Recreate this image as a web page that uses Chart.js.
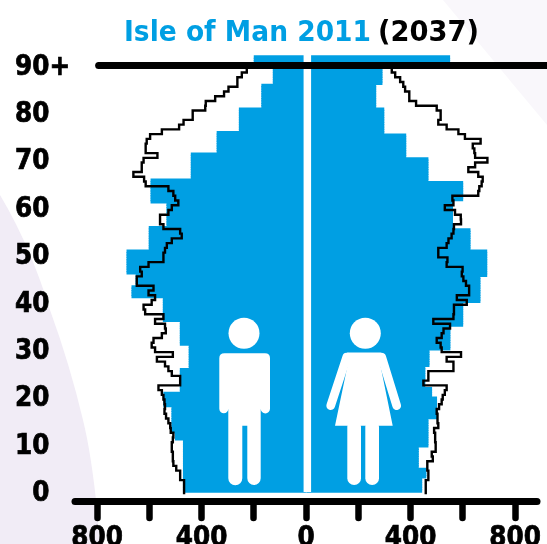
<!DOCTYPE html>
<html>
<head>
<meta charset="utf-8">
<title>Isle of Man 2011 (2037)</title>
<script src="https://cdn.jsdelivr.net/npm/chart.js@4/dist/chart.umd.min.js"></script>
<style>
    html, body { margin: 0; padding: 0; background: #fff; overflow: hidden; }
    #wrap { position: relative; width: 547px; height: 544px; }
    #wrap svg, #wrap canvas { position: absolute; left: 0; top: 0; }
    .ttl { font-family: "DejaVu Sans Condensed", "DejaVu Sans", sans-serif; font-weight: bold; font-size: 29px; }
</style>
</head>
<body>
<div id="wrap">
    <!-- pale background shapes -->
    <svg width="547" height="544">
        <path d="M0 195 Q30 245 50 310 Q70 365 83 420 Q94 465 100 544 L0 544 Z" fill="#f1ecf6"/>
        <path d="M443 0 L547 0 L547 125 Z" fill="#f9f7fb"/>
    </svg>
    <canvas id="chart" width="547" height="544"></canvas>
    <!-- title and the two figures -->
    <svg width="547" height="544">
        <text class="ttl" x="124" y="41" fill="#009fe3" textLength="247" lengthAdjust="spacingAndGlyphs">Isle of Man 2011</text>
        <text class="ttl" x="378" y="41" fill="#000" textLength="101" lengthAdjust="spacingAndGlyphs">(2037)</text>
        <g fill="#fff">
            <circle cx="244" cy="333.3" r="15.5"/>
            <path d="M224.5 353.3 H265 Q270 353.3 270 358.3 V408.8 A4.6 4.6 0 0 1 260.7 408.8 V478.3 A6.7 6.7 0 0 1 247.3 478.3 V425.7 H242.3 V478.3 A7 7 0 0 1 228.3 478.3 V408.8 A4.5 4.5 0 0 1 219.3 408.8 V358.3 Q219.3 353.3 224.5 353.3 Z"/>
            <circle cx="365.3" cy="333.3" r="15.5"/>
            <path d="M347.3 352.5 H380.7 V366.7 L392.7 425.7 H335 L347.3 366.7 Z"/>
            <rect x="347.3" y="420" width="13.7" height="65" rx="6.8"/>
            <rect x="365.3" y="420" width="13.7" height="65" rx="6.8"/>
        </g>
        <g stroke="#fff" stroke-width="8.7" stroke-linecap="round">
            <line x1="346.7" y1="357" x2="330.7" y2="405.7"/>
            <line x1="381.7" y1="357" x2="396.7" y2="405.7"/>
        </g>
    </svg>
</div>
<script>
// 2011 bars: each value holds from its start age up to the next start age
var maleBandStarts = [0, 11, 12.5, 18, 21, 26, 31, 36, 41, 43.5, 46, 51, 56, 61, 66, 71.5, 76, 81, 86, 89.5];
var maleBandValues = [470, 501, 514, 545, 482, 448, 482, 547, 667, 651, 686, 601, 533, 594, 440, 341, 256, 170, 126, 199];
var femaleBandStarts = [0, 3, 5, 9.5, 15.5, 20, 22, 26.5, 30, 35, 40, 45.5, 51, 55.5, 61.5, 65.5, 70.5, 75.5, 81, 86, 89.5];
var femaleBandValues = [443, 459, 430, 467, 500, 481, 455, 471, 551, 600, 666, 692, 628, 561, 600, 467, 382, 298, 267, 291, 550];
var bandTop = 92;

// 2037 projection, one value per age from 0 to 89
var male2037 = [
    467, 467, 467, 482, 482, 497, 508, 510, 510, 514,
    514, 510, 508, 518, 520, 527, 536, 542, 540, 542,
    546, 552, 565, 482, 482, 514, 527, 540, 571, 510,
    578, 591, 584, 552, 537, 540, 578, 546, 616, 622,
    591, 578, 603, 584, 648, 648, 629, 635, 603, 546,
    546, 540, 533, 514, 476, 482, 546, 559, 559, 527,
    514, 489, 501, 508, 527, 614, 620, 661, 629, 629,
    622, 569, 614, 614, 610, 597, 552, 486, 469, 434,
    434, 386, 384, 348, 314, 297, 263, 263, 246, 227
];
var female2037 = [
    458, 458, 458, 468, 468, 464, 464, 485, 481, 496,
    496, 494, 494, 490, 506, 503, 503, 500, 509, 519,
    523, 531, 538, 449, 468, 468, 564, 564, 538, 593,
    519, 515, 500, 519, 526, 551, 487, 564, 566, 566,
    615, 577, 624, 624, 612, 602, 596, 599, 538, 541,
    506, 506, 538, 545, 557, 564, 566, 593, 592, 570,
    531, 564, 560, 659, 663, 672, 676, 659, 621, 647,
    694, 647, 644, 638, 668, 608, 583, 538, 506, 515,
    515, 500, 421, 395, 395, 379, 372, 360, 341, 328
];

var xTickValues = [-800, -600, -400, -200, 0, 200, 400, 600, 800];
var xTickLabels = ['800', '', '400', '', '0', '', '400', '', '800'];
var yTickValues = [0, 10, 20, 30, 40, 50, 60, 70, 80, 90];
var yTickLabels = ['\u20070', '10', '20', '30', '40', '50', '60', '70', '80', '90+'];

var BLUE = '#009fe3';

function bandRows(starts, values, sign) {
    var rows = [];
    for (var a = 0; a < bandTop; a += 0.5) {
        var i = starts.length - 1;
        while (starts[i] > a) { i--; }
        rows.push({ x: sign * values[i], y: a + 0.25 });
    }
    return rows;
}

// each age is centred on its own step, the last step is closed off at the top
function lineRows(values, sign) {
    var rows = values.map(function(v, age) {
        return { x: sign * v, y: age - 0.5 };
    });
    rows.push({ x: sign * values[values.length - 1], y: values.length - 0.5 });
    return rows;
}

var roundCaps = {
    id: 'roundCaps',
    beforeDraw: function(chart) {
        chart.ctx.lineCap = 'round';
    }
};

var tickFont = { family: '"DejaVu Sans Condensed", "DejaVu Sans", sans-serif', weight: 'bold', size: 27.5 };

new Chart(document.getElementById('chart'), {
    type: 'bar',
    data: {
        datasets: [
            { label: 'Male 2011', data: bandRows(maleBandStarts, maleBandValues, -1), backgroundColor: BLUE, grouped: false, barThickness: 3, order: 4 },
            { label: 'Female 2011', data: bandRows(femaleBandStarts, femaleBandValues, 1), backgroundColor: BLUE, grouped: false, barThickness: 3, order: 4 },
            // white gap between the two halves
            { type: 'line', label: 'Gap', data: [{ x: 4.8, y: 0 }, { x: 4.8, y: 93 }], borderColor: '#fff', borderWidth: 7.5, pointRadius: 0, order: 3 },
            { type: 'line', label: 'Male 2037', data: lineRows(male2037, -1), borderColor: '#000', borderWidth: 2.4, pointRadius: 0, stepped: 'after', clip: false, order: 2 },
            { type: 'line', label: 'Female 2037', data: lineRows(female2037, 1), borderColor: '#000', borderWidth: 2.4, pointRadius: 0, stepped: 'after', clip: false, order: 2 },
            { type: 'line', label: '90+', data: [{ x: -794, y: 90 }, { x: 960, y: 90 }], borderColor: '#000', borderWidth: 7, borderCapStyle: 'round', pointRadius: 0, clip: false, order: 1 }
        ]
    },
    plugins: [roundCaps],
    options: {
        indexAxis: 'y',
        responsive: false,
        animation: false,
        layout: { padding: { left: 15, right: 11, top: 50, bottom: 0 } },
        plugins: { legend: { display: false }, title: { display: false }, tooltip: { enabled: false } },
        scales: {
            x: {
                type: 'linear',
                min: -873,
                max: 880,
                afterBuildTicks: function(scale) {
                    scale.ticks = xTickValues.map(function(v) { return { value: v }; });
                },
                afterFit: function(scale) { scale.height = 43; },
                border: { display: true, color: '#000', width: 7 },
                grid: { drawOnChartArea: false, drawTicks: true, tickLength: 17, tickWidth: 6.5, tickColor: '#000' },
                ticks: {
                    autoSkip: false,
                    maxRotation: 0,
                    padding: 4,
                    color: '#000',
                    font: tickFont,
                    textStrokeColor: '#000',
                    textStrokeWidth: 0.7,
                    callback: function(v, i) { return xTickLabels[i]; }
                }
            },
            y: {
                type: 'linear',
                offset: false,
                min: -1.9,
                max: 93.25,
                afterBuildTicks: function(scale) {
                    scale.ticks = yTickValues.map(function(v) { return { value: v }; });
                },
                afterFit: function(scale) { scale.width = 63; },
                border: { display: false },
                grid: { display: false, offset: false },
                ticks: {
                    autoSkip: false,
                    crossAlign: 'far',
                    labelOffset: 2,
                    color: '#000',
                    font: tickFont,
                    textStrokeColor: '#000',
                    textStrokeWidth: 0.7,
                    callback: function(v, i) { return yTickLabels[i]; }
                }
            }
        }
    }
});
</script>
</body>
</html>
